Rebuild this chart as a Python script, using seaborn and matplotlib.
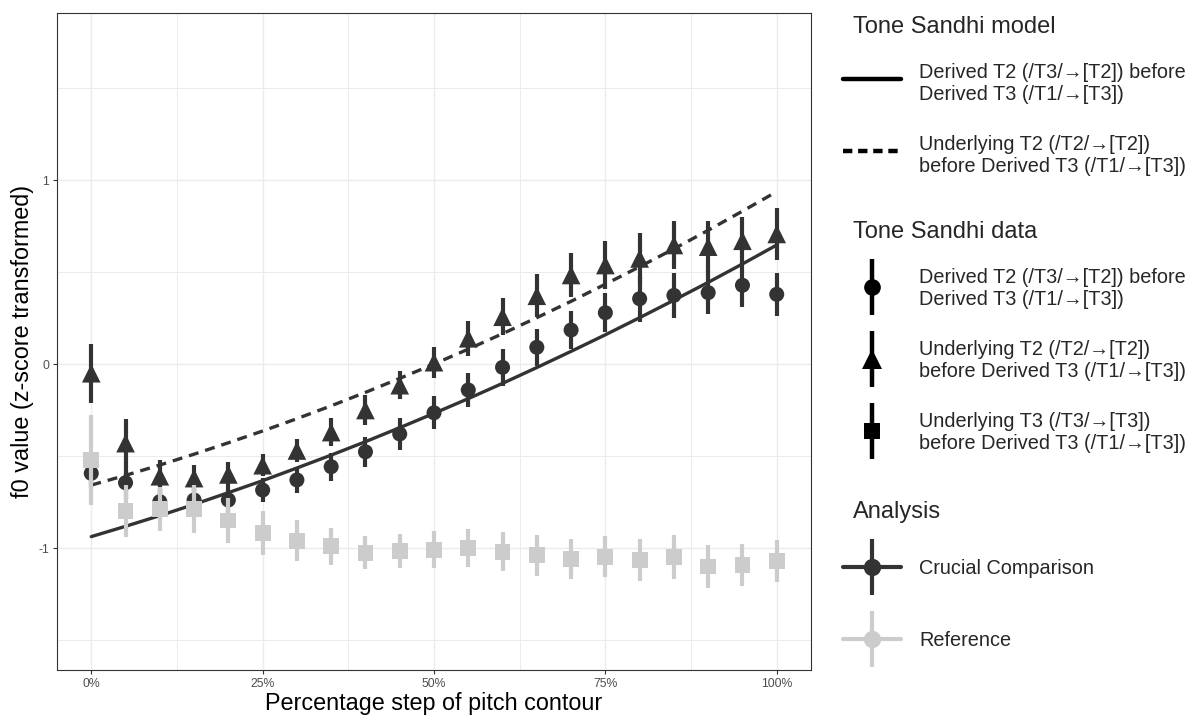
import matplotlib
matplotlib.use('Agg')
import matplotlib.pyplot as plt
from matplotlib.lines import Line2D
import pandas as pd
import seaborn as sns

# percentage steps along the pitch contour
steps = [0, 5, 10, 15, 20, 25, 30, 35, 40, 45, 50, 55, 60, 65, 70, 75, 80, 85, 90, 95, 100]

# model predictions (lines)
model_derived = [-0.938, -0.882, -0.824, -0.763, -0.699, -0.634, -0.565, -0.495, -0.422, -0.346, -0.268,
                 -0.188, -0.105, -0.019, 0.069, 0.159, 0.252, 0.347, 0.444, 0.544, 0.647]
model_underlying = [-0.658, -0.605, -0.549, -0.490, -0.428, -0.364, -0.297, -0.227, -0.154, -0.078, 0.000,
                    0.081, 0.165, 0.252, 0.341, 0.434, 0.529, 0.626, 0.727, 0.831, 0.937]

# observed means and error bar half widths
derived_t2_mean = [-0.594, -0.645, -0.748, -0.739, -0.739, -0.685, -0.630, -0.558, -0.477, -0.380, -0.265,
                   -0.141, -0.018, 0.091, 0.185, 0.279, 0.355, 0.373, 0.388, 0.428, 0.379]
derived_t2_err = [0.08, 0.09, 0.07, 0.07, 0.07, 0.065, 0.07, 0.076, 0.08, 0.085, 0.09,
                  0.095, 0.10, 0.10, 0.105, 0.105, 0.125, 0.121, 0.116, 0.12, 0.116]

underlying_t2_mean = [-0.05, -0.43, -0.61, -0.62, -0.60, -0.55, -0.47, -0.37, -0.25, -0.115, 0.01,
                      0.14, 0.257, 0.371, 0.484, 0.538, 0.574, 0.647, 0.638, 0.67, 0.707]
underlying_t2_err = [0.16, 0.13, 0.09, 0.07, 0.07, 0.06, 0.06, 0.075, 0.08, 0.075, 0.085,
                     0.095, 0.10, 0.116, 0.12, 0.13, 0.136, 0.13, 0.14, 0.13, 0.14]

underlying_t3_mean = [-0.52, -0.80, -0.79, -0.79, -0.85, -0.917, -0.96, -0.99, -1.025, -1.016, -1.01,
                      -0.998, -1.02, -1.04, -1.06, -1.047, -1.065, -1.049, -1.10, -1.092, -1.071]
underlying_t3_err = [0.245, 0.14, 0.12, 0.13, 0.12, 0.12, 0.11, 0.10, 0.09, 0.09, 0.10,
                     0.104, 0.107, 0.11, 0.11, 0.11, 0.114, 0.12, 0.116, 0.114, 0.116]

xtick_values = [0, 25, 50, 75, 100]
xtick_labels = ['0%', '25%', '50%', '75%', '100%']
ytick_values = [-1, 0, 1]
ytick_labels = ['-1', '0', '1']

label_derived = 'Derived T2 (/T3/\u2192[T2]) before\nDerived T3 (/T1/\u2192[T3])'
label_under_t2 = 'Underlying T2 (/T2/\u2192[T2])\nbefore Derived T3 (/T1/\u2192[T3])'
label_under_t3 = 'Underlying T3 (/T3/\u2192[T3])\nbefore Derived T3 (/T1/\u2192[T3])'

DARK = '#333333'
LIGHT = '#CCCCCC'
GRID = '#EBEBEB'

sns.set_theme(style='white')
plt.rcParams['font.family'] = ['Liberation Sans', 'DejaVu Sans']

W, H = 1190, 716
fig = plt.figure(figsize=(W / 100, H / 100), dpi=100)
ax = fig.add_axes([57 / W, 1 - 670 / H, 754 / W, 657 / H])

# model lines
model = pd.DataFrame({
    'step': steps + steps,
    'f0': model_derived + model_underlying,
    'model': ['derived'] * len(steps) + ['underlying'] * len(steps),
})
sns.lineplot(data=model, x='step', y='f0', style='model',
             dashes={'derived': '', 'underlying': (3.0, 2.1)},
             color=DARK, linewidth=2.4, legend=False, ax=ax, zorder=3)

# observed points with error bars
series = [
    (derived_t2_mean, derived_t2_err, 'o', 117, DARK),
    (underlying_t2_mean, underlying_t2_err, '^', 180, DARK),
    (underlying_t3_mean, underlying_t3_err, 's', 130, LIGHT),
]
z = 4
for mean, err, marker, size, color in series:
    ax.errorbar(steps, mean, yerr=err, fmt='none', ecolor=color, elinewidth=3.0,
                capsize=0, zorder=z)
    sns.scatterplot(x=steps, y=mean, marker=marker, s=size, color=color,
                    edgecolor='none', linewidth=0, legend=False, ax=ax, zorder=z + 1)
    z += 2

ax.set_xlim(-5, 105)
ax.set_ylim(-1.663, 1.908)
ax.set_xticks(xtick_values)
ax.set_xticklabels(xtick_labels)
ax.set_yticks(ytick_values)
ax.set_yticklabels(ytick_labels)
ax.set_xticks([12.5, 37.5, 62.5, 87.5], minor=True)
ax.set_yticks([-1.5, -0.5, 0.5, 1.5], minor=True)
ax.grid(which='major', color=GRID, linewidth=1.0, zorder=0)
ax.grid(which='minor', color=GRID, linewidth=0.7, zorder=0)
ax.set_axisbelow(True)
ax.tick_params(which='major', length=2.7, width=0.8, color=DARK, labelsize=8.8,
               labelcolor='#4D4D4D', pad=3, bottom=True, left=True)
ax.tick_params(which='minor', length=0)
for sp in ax.spines.values():
    sp.set_color(DARK)
    sp.set_linewidth(0.8)

ax.set_xlabel('Percentage step of pitch contour', fontsize=16.8, color='black', labelpad=1.5)
ax.set_ylabel('f0 value (z-score transformed)', fontsize=16.8, color='black', labelpad=3)

leg_kw = dict(loc='upper left', frameon=False, fontsize=14.3, title_fontsize=17,
              handlelength=2.9, handleheight=3.65, handletextpad=0.95, labelspacing=1.0,
              borderpad=0, borderaxespad=0, alignment='left', numpoints=1)


def finish_legend(leg, key_shift):
    for t in leg.get_texts():
        t.set_linespacing(1.2)
    leg.get_title().set_x(10)
    # centre each key on its label, as ggplot does
    for col in leg._legend_handle_box.get_children():
        for row in col.get_children():
            row.align = 'center'
            key = row.get_children()[0]
            key.ydescent = key.ydescent * key_shift


model_handles = [
    Line2D([], [], color='black', linewidth=3.2),
    Line2D([], [], color='black', linewidth=3.2, dashes=(2.1, 1.3)),
]
leg = fig.legend(handles=model_handles, labels=[label_derived, label_under_t2],
                 title='Tone Sandhi model', bbox_to_anchor=(843 / W, 1 - 16 / H), **leg_kw)
finish_legend(leg, 0.72)


def data_handle(marker, ms, color):
    bar = Line2D([], [], linestyle='none', marker='|', markersize=41, markeredgewidth=3.2, color=color)
    pt = Line2D([], [], linestyle='none', marker=marker, markersize=ms, color=color,
                markeredgewidth=0)
    return (bar, pt)


data_handles = [data_handle('o', 12, 'black'), data_handle('^', 14.5, 'black'),
                data_handle('s', 12, 'black')]
leg = fig.legend(handles=data_handles, labels=[label_derived, label_under_t2, label_under_t3],
                 title='Tone Sandhi data', bbox_to_anchor=(843 / W, 1 - 221 / H), **leg_kw)
finish_legend(leg, 0.57)


def analysis_handle(color):
    cross = Line2D([], [], color=color, linewidth=3.0, marker='|', markersize=41,
                   markeredgewidth=3.0)
    pt = Line2D([], [], linestyle='none', marker='o', markersize=12.5, color=color,
                markeredgewidth=0)
    return (cross, pt)


leg = fig.legend(handles=[analysis_handle(DARK), analysis_handle(LIGHT)],
                 labels=['Crucial Comparison', 'Reference'],
                 title='Analysis', bbox_to_anchor=(843 / W, 1 - 501 / H), **leg_kw)
finish_legend(leg, 0.57)

fig.savefig('out.png', dpi=100, facecolor='white')
